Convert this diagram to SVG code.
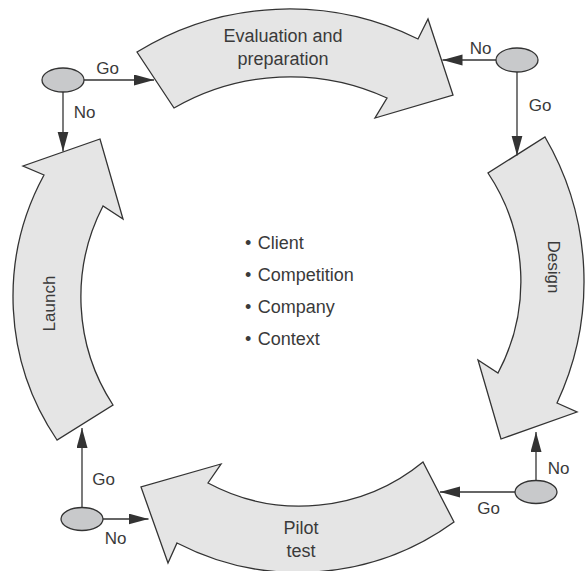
<svg xmlns="http://www.w3.org/2000/svg" width="586" height="571" viewBox="0 0 586 571">
  <style>
    .stage { fill: #e5e5e5; stroke: #333333; stroke-width: 1.3; stroke-linejoin: miter; }
    .gate { fill: #c8c9cb; stroke: #333333; stroke-width: 1.3; }
    .link { fill: none; stroke: #333333; stroke-width: 1.3; marker-end: url(#head); }
    text { font-family: "Liberation Sans", Arial, sans-serif; fill: #3a3a3a; }
    .lbl { font-size: 18px; text-anchor: middle; }
    .side { font-size: 17px; text-anchor: middle; }
    .yn { font-size: 17px; text-anchor: middle; }
    .item { font-size: 18px; }
  </style>
  <defs>
    <marker id="head" markerUnits="userSpaceOnUse" markerWidth="21" markerHeight="12" refX="20" refY="5.5" orient="auto">
      <path d="M0,0 L20,5.5 L0,11 Z" fill="#333333"/>
    </marker>
  </defs>

  <rect width="586" height="571" fill="#ffffff"/>

  <!-- Stage: evaluation and preparation (top) -->
  <g id="stage-evaluation">
    <path class="stage" d="M137,52 A291,291 0 0 1 418,39 L428,19 L453,95 L375,118 L387,98 A232.5,232.5 0 0 0 174,108 Z"/>
    <text class="lbl" x="283" y="41.5">Evaluation and</text>
    <text class="lbl" x="283" y="65">preparation</text>
  </g>

  <!-- Stage: design (right) -->
  <g id="stage-design">
    <path class="stage" d="M545,137 A287,287 0 0 1 557,403 L577,412 L501,439 L478,360 L498,373 A195,195 0 0 0 488,173 Z"/>
    <text class="side" transform="translate(547.5,267) rotate(90)">Design</text>
  </g>

  <!-- Stage: pilot test (bottom) -->
  <g id="stage-pilot">
    <path class="stage" d="M423,462 A194,194 0 0 1 208,483 L221,464 L141,487 L168,563 L177,543 A265,265 0 0 0 454,522 Z"/>
    <text class="lbl" x="301" y="533.5">Pilot</text>
    <text class="lbl" x="301" y="557">test</text>
  </g>

  <!-- Stage: launch (left) -->
  <g id="stage-launch">
    <path class="stage" d="M57,440 A255,255 0 0 1 44,175 L23,166 L100,139 L123,219 L103,206 A198,198 0 0 0 113,405 Z"/>
    <text class="side" transform="translate(54.5,303.5) rotate(-90)">Launch</text>
  </g>

  <!-- Decision gates -->
  <g id="gate-top-left">
    <ellipse class="gate" cx="63" cy="80" rx="21" ry="12"/>
  </g>
  <g id="gate-top-right">
    <ellipse class="gate" cx="517" cy="60" rx="21" ry="12"/>
  </g>
  <g id="gate-bottom-right">
    <ellipse class="gate" cx="536" cy="492" rx="21" ry="11.5"/>
  </g>
  <g id="gate-bottom-left">
    <ellipse class="gate" cx="82" cy="519" rx="21" ry="11.5"/>
  </g>

  <!-- Go / No connectors -->
  <g id="connectors">
    <line class="link" x1="84" y1="80" x2="154" y2="80"/>
    <line class="link" x1="63" y1="92" x2="63" y2="151.5"/>
    <line class="link" x1="496" y1="60" x2="442.5" y2="60"/>
    <line class="link" x1="517" y1="72" x2="517" y2="155.5"/>
    <line class="link" x1="536" y1="480.5" x2="536" y2="432"/>
    <line class="link" x1="515" y1="492" x2="440" y2="492"/>
    <line class="link" x1="82" y1="507.5" x2="82" y2="428"/>
    <line class="link" x1="103" y1="519" x2="148.5" y2="519"/>

    <text class="yn" x="107.5" y="74">Go</text>
    <text class="yn" x="84.5" y="117.5">No</text>
    <text class="yn" x="480.5" y="53.5">No</text>
    <text class="yn" x="540" y="111">Go</text>
    <text class="yn" x="558.5" y="473.5">No</text>
    <text class="yn" x="488.5" y="513.5">Go</text>
    <text class="yn" x="103.5" y="485">Go</text>
    <text class="yn" x="115.5" y="543.5">No</text>
  </g>

  <!-- Central focus list -->
  <g id="focus-list">
    <text class="item" x="245" y="248.5">• <tspan dx="1.5">Client</tspan></text>
    <text class="item" x="245" y="280.5">• <tspan dx="1.5">Competition</tspan></text>
    <text class="item" x="245" y="312.5">• <tspan dx="1.5">Company</tspan></text>
    <text class="item" x="245" y="344.5">• <tspan dx="1.5">Context</tspan></text>
  </g>
</svg>
